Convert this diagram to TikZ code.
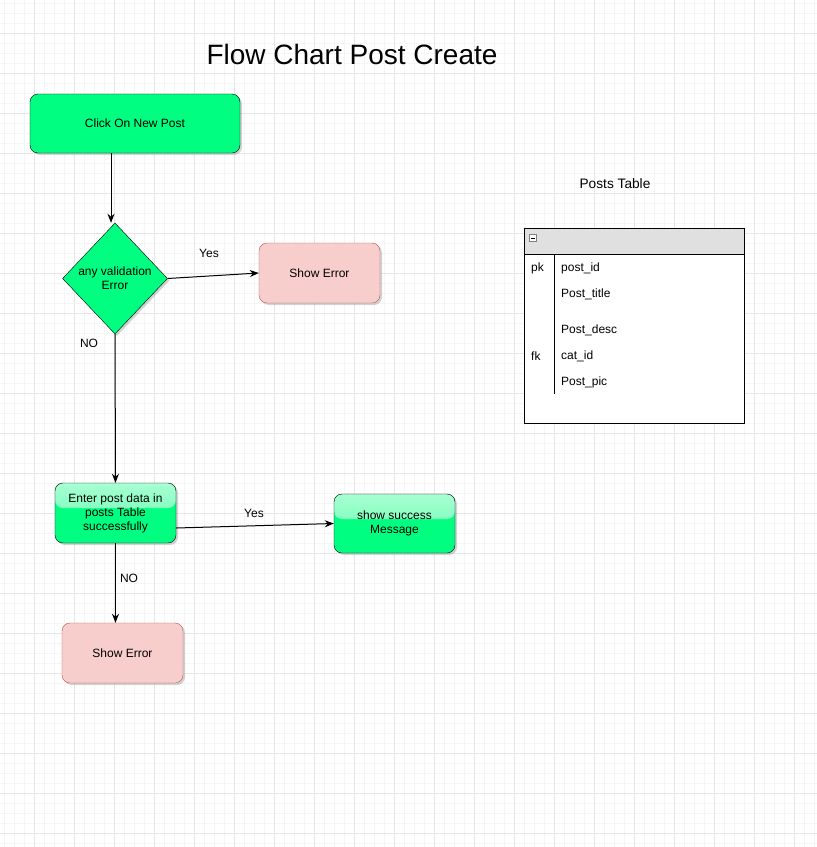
\documentclass[tikz,border=0pt]{standalone}
\usepackage{fontspec}
\setmainfont{Liberation Sans}
\usetikzlibrary{shapes.geometric,arrows.meta,shadows}

\definecolor{okgreen}{HTML}{00FF80}
\definecolor{glasstop}{HTML}{A8FFD2}
\definecolor{glassmid}{HTML}{58FFAA}
\definecolor{errfill}{HTML}{F8CECC}
\definecolor{errline}{HTML}{B85450}
\definecolor{gridmajor}{HTML}{E6E6E6}
\definecolor{gridminor}{HTML}{F5F5F5}
\definecolor{headgray}{HTML}{E0E0E0}

\begin{document}
\begin{tikzpicture}[x=1pt,y=-1pt,
  every node/.style={font=\fontsize{12}{14}\selectfont},
  shadowed/.style={drop shadow={shadow xshift=2pt,shadow yshift=-2pt,opacity=0.35,fill=gray}},
  okbox/.style={draw=black,fill=okgreen,rounded corners=8pt,minimum width=121pt,minimum height=60pt,inner sep=0pt,align=center,shadowed},
  glass/.style={path picture={\shade[top color=glasstop,bottom color=glassmid] (path picture bounding box.north west) rectangle ([yshift=-25pt]path picture bounding box.north east);}},
  errbox/.style={draw=errline,fill=errfill,rounded corners=8pt,minimum width=121pt,minimum height=60pt,inner sep=0pt,shadowed},
  decide/.style={diamond,draw=black,fill=okgreen,minimum width=105pt,minimum height=111pt,inner sep=0pt,aspect=0.95,align=center,shadowed},
  flow/.style={draw=black,line width=1pt,-{Stealth[length=9pt,width=7pt]}},
  field/.style={anchor=west,inner sep=0pt}
]

\useasboundingbox (0,0) rectangle (817,847);

% background grid
\foreach \x in {4.5,14.5,...,814.5}
    \draw[gridminor,line width=0.8pt] (\x,0) -- (\x,847);
\foreach \y in {3.3,13.3,...,843.3}
    \draw[gridminor,line width=0.8pt] (0,\y) -- (817,\y);
\foreach \x in {34.5,74.5,...,794.5}
    \draw[gridmajor,line width=0.8pt] (\x,0) -- (\x,847);
\foreach \y in {33.3,73.3,...,833.3}
    \draw[gridmajor,line width=0.8pt] (0,\y) -- (817,\y);

\node[font=\fontsize{28}{32}\selectfont] (title) at (352,54) {Flow Chart Post Create};

% flow chart
\node[okbox,minimum width=210pt,minimum height=59pt] (click) at (135,123.5) {Click On New Post};
\node[decide] (valid) at (115,278.5) {any validation\\Error};
\node[errbox] (err1) at (319.5,273) {Show Error};
\node[okbox,glass] (enter) at (115.5,513) {Enter post data in\\posts Table\\successfully};
\node[okbox,glass,minimum height=59pt] (success) at (394.5,523.5) {show success\\Message};
\node[errbox] (err2) at (122.5,653) {Show Error};

\draw[flow] ([xshift=-24pt]click.south) -- ([xshift=-24pt]click.south |- valid.north);
\draw[flow] (valid.east) -- (err1.west);
\draw[flow] (valid.south) -- (enter.north);
\draw[flow] ([yshift=-15pt]enter.east) -- (success.west);
\draw[flow] (enter.south) -- (enter.south |- err2.north);

\node (yes1) at (209,253) {Yes};
\node (no1) at (89,343) {NO};
\node (yes2) at (254,513) {Yes};
\node (no2) at (129,578) {NO};

% posts table
\node[font=\fontsize{13.7}{16}\selectfont] (tblname) at (615,184) {Posts Table};
\draw[fill=white,line width=1pt] (524,228) rectangle (744,423);
\draw[fill=headgray,line width=1pt] (524,228) rectangle (744,254);
\draw[fill=white,draw=gray,line width=0.6pt] (529.5,234.5) rectangle (536.5,241.5);
\draw[line width=0.8pt] (531,238) -- (535,238);
\draw[line width=1pt] (554,254) -- (554,394);

\node[field] (pk) at (531,268) {pk};
\node[field] (postid) at (561,268) {post\_id};
\node[field] (posttitle) at (561,294) {Post\_title};
\node[field] (postdesc) at (561,330) {Post\_desc};
\node[field] (fk) at (531,356) {fk};
\node[field] (catid) at (561,356) {cat\_id};
\node[field] (postpic) at (561,382) {Post\_pic};

\end{tikzpicture}
\end{document}
